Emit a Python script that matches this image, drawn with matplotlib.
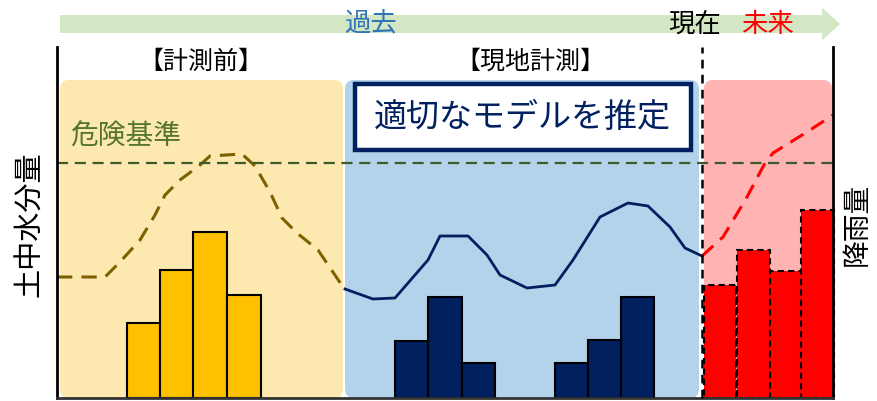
import matplotlib.pyplot as plt
from matplotlib.patches import FancyBboxPatch, FancyArrow

plt.rcParams['font.family'] = ['Noto Sans CJK JP', 'DejaVu Sans']

# 時間軸 (横位置) と高さ (基準線からの高さ) は図から読み取った値
# 降雨量 - 計測前
rain_before_x = [143.5, 177, 210, 244]
rain_before = [75, 128, 166, 103]
# 降雨量 - 現地計測
rain_meas_x = [411.5, 445, 478.5, 571.5, 604.5, 637.5]
rain_meas = [57, 101, 35, 35, 58, 101]
# 降雨量 - 未来 (予測)
rain_future_x = [720, 753.5, 786, 817.5]
rain_future = [113, 148, 127, 188]

# 土中水分量
soil_before_x = [57, 105, 120, 140, 155, 165, 180, 200, 210, 242, 255, 270, 282, 297, 318, 343]
soil_before = [121, 121, 136, 158, 183, 203, 218, 233, 242, 244, 232, 206, 180, 165, 148, 111]
soil_meas_x = [345, 373, 395, 428, 440, 468, 487, 500, 527, 555, 573, 600, 628, 648, 670, 685, 702]
soil_meas = [109, 99, 100, 138, 162, 162, 143, 123, 110, 113, 138, 181, 195, 192, 171, 150, 142]
soil_future_x = [702, 723, 747, 765, 773, 807, 833]
soil_future = [142, 161, 201, 235, 245, 266, 283]

danger_level = 235
now_x = 702

fig = plt.figure(figsize=(8.78, 4.01), dpi=100)
ax = fig.add_axes([0, 0, 1, 1])
ax.set_xlim(0, 878)
ax.set_ylim(-3, 398)
ax.axis('off')

# 背景パネル
panels = [(60, 343, '#FDE9B0'), (345, 699, '#B3D3EB'), (704, 832, '#FFB3B3')]
for x0, x1, c in panels:
    ax.add_patch(FancyBboxPatch((x0 + 9, 9), x1 - x0 - 18, 318 - 18,
                                boxstyle='round,pad=9', fc=c, ec='none', zorder=0))

# 時間の矢印
ax.add_patch(FancyArrow(60, 374, 762, 0, width=18, head_width=33, head_length=18,
                        length_includes_head=False, fc='#D4E7C5', ec='none', zorder=1))
ax.text(370, 374, '過去', fontsize=19, color='#2E75B6', ha='center', va='center', zorder=3)
ax.text(695, 374, '現在', fontsize=19, color='black', ha='center', va='center', zorder=3)
ax.text(767, 374, '未来', fontsize=19, color='#FF0000', ha='center', va='center', zorder=3)

ax.text(201, 336, '【計測前】', fontsize=18, ha='center', va='center')
ax.text(530, 336, '【現地計測】', fontsize=18, ha='center', va='center')

# 棒グラフ
ax.bar(rain_before_x, rain_before, width=33.5, color='#FFC000', edgecolor='black', linewidth=1.5, zorder=2)
ax.bar(rain_meas_x, rain_meas, width=33.5, color='#002060', edgecolor='black', linewidth=1.5, zorder=2)
ax.bar(rain_future_x, rain_future, width=32.5, color='#FF0000', edgecolor='black', linewidth=1.5,
       linestyle=(0, (3, 2)), zorder=2)

# 折れ線
ax.plot(soil_before_x, soil_before, color='#7F6000', lw=2.2, dashes=(5, 3), zorder=3)
ax.plot(soil_meas_x, soil_meas, color='#002060', lw=2, zorder=3)
ax.plot(soil_future_x, soil_future, color='#FF0000', lw=2.2, dashes=(5, 3), zorder=3)

# 危険基準
ax.plot([57, 833], [danger_level, danger_level], color='#3E5A2A', lw=1.6, dashes=(5, 3), zorder=3)
ax.text(70, 261, '危険基準', fontsize=20, color='#55752F', ha='left', va='center', zorder=3)

# 枠線
ax.plot([57, 57], [0, 351], color='black', lw=2, zorder=4)
ax.plot([833, 833], [0, 351], color='black', lw=2, zorder=4)
ax.plot([57, 833], [0, 0], color='#333333', lw=2, zorder=4)
ax.plot([now_x, now_x], [0, 351], color='black', lw=1.8, dashes=(3.5, 2.5), zorder=4)

# モデル推定の枠
ax.add_patch(plt.Rectangle((355, 248), 336, 66, fc='white', ec='#002060', lw=3.2, zorder=5))
ax.text(522, 281, '適切なモデルを推定', fontsize=23.8, color='#002060', ha='center', va='center', zorder=6)

# 軸ラベル
ax.text(30, 174, '土中水分量', fontsize=21, rotation=90, ha='center', va='center')
ax.text(857, 174, '降雨量', fontsize=20, rotation=90, ha='center', va='center')

fig.savefig('out.png', dpi=100)
